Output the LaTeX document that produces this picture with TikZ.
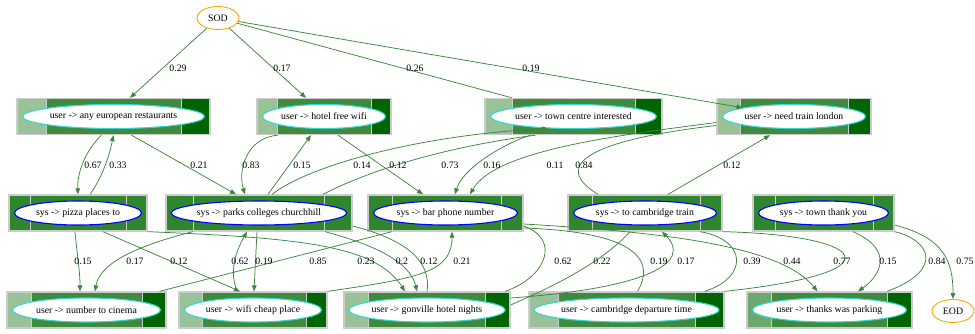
\documentclass[tikz,border=0pt]{standalone}
\usepackage{fontspec}
\setmainfont{Liberation Serif}
\usetikzlibrary{arrows.meta,shapes.geometric}

% cell colours of the dialogue-turn bars
\definecolor{usrpale}{HTML}{99C299}
\definecolor{usrmid}{HTML}{3F8A3F}
\definecolor{usrdark}{HTML}{006400}
\definecolor{usrbpale}{HTML}{6EA86E}
\definecolor{usrbmid}{HTML}{3F8A3F}
\definecolor{usrbdark}{HTML}{006400}
\definecolor{syspale}{HTML}{30852F}
\definecolor{sysmid}{HTML}{30852F}
\definecolor{sysdark}{HTML}{30852F}
\definecolor{framegray}{HTML}{CCCCCC}
\definecolor{turq}{HTML}{30D8D0}
\definecolor{flowgreen}{HTML}{3A873A}
\definecolor{endorange}{HTML}{FFA500}

\tikzset{
  txt/.style={font=\fontsize{9.8}{11}\selectfont},
  turnframe/.style={draw=framegray, line width=1.3pt, minimum height=36pt, inner sep=0pt},
  sepline/.style={draw=framegray, line width=0.9pt},
  usroval/.style={ellipse, draw=turq, line width=1.1pt, fill=white, minimum height=24pt, inner sep=0pt, txt},
  usrboval/.style={usroval},
  sysoval/.style={usroval, draw=blue},
  endpoint/.style={ellipse, draw=endorange, line width=0.9pt, minimum width=42pt, minimum height=23pt, inner sep=0pt, txt},
  flow/.style={draw=flowgreen, line width=0.75pt},
  arr/.style={-{Triangle[length=6pt,width=4.6pt]}},
  lbl/.style={txt, inner sep=0pt},
}

% #1 name, #2..#5 cell borders (x), #6 centre y, #7 kind, #8 text
\newcommand\dlgturn[8]{%
  \fill[#7pale] (#2,#6-18) rectangle (#3,#6+18);
  \fill[#7mid] (#3,#6-18) rectangle (#4,#6+18);
  \fill[#7dark] (#4,#6-18) rectangle (#5,#6+18);
  \draw[sepline] (#3,#6-18) -- (#3,#6+18) (#4,#6-18) -- (#4,#6+18);
  \pgfmathsetmacro\dlgw{#5-#2}%
  \pgfmathsetmacro\dlgx{(#2+#5)/2}%
  \pgfmathsetmacro\dlgew{#5-#2-11}%
  \node[turnframe, minimum width=\dlgw pt] (#1) at (\dlgx,#6) {};
  \node[#7oval, minimum width=\dlgew pt] (#1o) at (\dlgx,#6) {#8};
}

\begin{document}
\begin{tikzpicture}[x=1pt,y=-1pt]
\useasboundingbox (0,0) rectangle (975,333);

% start and end of dialogue
\node[endpoint] (SOD) at (218,18) {SOD};
\node[endpoint] (EOD) at (953,311) {EOD};

% user turns, first row
\dlgturn{A}{17}{46}{181}{210}{116.5}{usr}{user -> any european restaurants}
\dlgturn{B}{257}{277}{371}{391}{116.5}{usr}{user -> hotel free wifi}
\dlgturn{C}{485}{512}{635}{662}{116.5}{usr}{user -> town centre interested}
\dlgturn{D}{717}{740}{848}{871}{116.5}{usr}{user -> need train london}

% system turns
\dlgturn{E}{9}{30}{126}{147}{213}{sys}{sys -> pizza places to}
\dlgturn{F}{166}{193}{324}{352}{213}{sys}{sys -> parks colleges churchhill}
\dlgturn{G}{368}{392}{501}{523}{213}{sys}{sys -> bar phone number}
\dlgturn{H}{568}{592}{700}{722}{213}{sys}{sys -> to cambridge train}
\dlgturn{I}{753}{775}{873}{894}{213}{sys}{sys -> town thank you}

% user turns, last row
\dlgturn{J}{7}{31}{142}{166}{310}{usr}{user -> number to cinema}
\dlgturn{K}{179}{202}{306}{327}{310}{usr}{user -> wifi cheap place}
\dlgturn{L}{344}{368}{485}{510}{310}{usr}{user -> gonville hotel nights}
\dlgturn{M}{529}{558}{695}{724}{310}{usr}{user -> cambridge departure time}
\dlgturn{N}{747}{771}{887}{912}{310}{usrb}{user -> thanks was parking}

% transitions from the start
\draw[flow,arr] (SOD) -- ([xshift=16.5pt]A.north);
\draw[flow,arr] (SOD) -- ([xshift=-18pt]B.north);
\draw[flow] (SOD) -- ([xshift=-61.5pt]C.north);
\draw[flow,arr] (SOD) -- (Do);
\node[lbl] (l01) at (178,68) {0.29};
\node[lbl] (l02) at (282,68) {0.17};
\node[lbl] (l03) at (415,68) {0.26};
\node[lbl] (l04) at (531,68) {0.19};

% between the first two rows
\draw[flow,arr] ([xshift=-12pt]A.south) .. controls (86,150) and (77,172) .. (E.north);
\draw[flow,arr] ([xshift=12pt]E.north) .. controls (104,175) and (110,152) .. (A.south);
\draw[flow,arr] ([xshift=18pt]A.south) -- ([xshift=-23pt]F.north);
\draw[flow,arr] ([xshift=-46pt]B.south) .. controls (245,138) and (238,172) .. ([xshift=-14pt]F.north);
\draw[flow,arr] ([xshift=9pt]F.north) -- ([xshift=-13pt]B.south);
\draw[flow,arr] ([xshift=13pt]F.north) .. controls (310,165) and (420,135) .. (Co.205);
\draw[flow,arr] ([xshift=14pt]B.south) -- ([xshift=-22.5pt]G.north);
\draw[flow] ([xshift=-38pt]C.south) .. controls (460,145) and (380,165) .. ([xshift=64pt]F.north);
\draw[flow,arr] ([xshift=-43pt]C.south) .. controls (500,145) and (462,170) .. ([xshift=9.5pt]G.north);
\draw[flow,arr] ([yshift=-6pt]D.west) .. controls (620,135) and (495,150) .. ([xshift=24.5pt]G.north);
\draw[flow] ([yshift=-9pt]D.west) .. controls (590,140) and (550,165) .. ([xshift=-47pt]H.north);
\draw[flow,arr] ([xshift=23pt]H.north) -- ([xshift=-24pt]D.south);
\node[lbl] (l05) at (93,165) {0.67};
\node[lbl] (l06) at (118,165) {0.33};
\node[lbl] (l07) at (199,165) {0.21};
\node[lbl] (l08) at (251,165) {0.83};
\node[lbl] (l09) at (302,165) {0.15};
\node[lbl] (l10) at (362,165) {0.14};
\node[lbl] (l11) at (398,165) {0.12};
\node[lbl] (l12) at (450,165) {0.73};
\node[lbl] (l13) at (492,165) {0.16};
\node[lbl] (l14) at (555,165) {0.11};
\node[lbl] (l15) at (584,165) {0.84};
\node[lbl] (l16) at (732,165) {0.12};

% between the system row and the last row
\draw[flow,arr] ([xshift=-3pt]E.south) .. controls (77,255) and (80,270) .. ([xshift=-6.5pt]J.north);
\draw[flow,arr] ([xshift=-66pt]F.south) .. controls (140,245) and (100,262) .. ([xshift=8.5pt]J.north);
\draw[flow,arr] ([xshift=25pt]E.south) -- ([xshift=-13pt]K.north);
\draw[flow,arr] ([xshift=-16pt]K.north) .. controls (228,268) and (238,248) .. ([xshift=-12pt]F.south);
\draw[flow,arr] ([xshift=-2pt]F.south) -- ([xshift=1pt]K.north);
\draw[flow] ([xshift=73pt]J.north) -- ([xshift=-53.5pt]G.south);
\draw[flow,arr] (E.south east) .. controls (300,238) and (375,245) .. ([xshift=-22pt]L.north);
\draw[flow,arr] ([xshift=66pt]F.south) .. controls (375,245) and (410,262) .. ([xshift=-10pt]L.north);
\draw[flow] (L.north) .. controls (432,258) and (400,238) .. ([yshift=-13pt]F.east);
\draw[flow,arr] (K.north east) .. controls (420,278) and (452,272) .. ([xshift=6.5pt]G.south);
\draw[flow] ([xshift=78pt]L.north) .. controls (545,278) and (562,240) .. ([yshift=-13pt]G.east);
\draw[flow] ([yshift=-15pt]G.east) .. controls (640,232) and (655,262) .. ([xshift=11pt]M.north);
\draw[flow,arr] ([yshift=-11pt]G.east) .. controls (660,232) and (780,245) .. ([xshift=-12pt]N.north);
\draw[flow] ([xshift=-15pt]H.south) .. controls (600,265) and (545,290) .. ([yshift=5pt]L.east);
\draw[flow,arr] ([yshift=12pt]L.east) .. controls (650,288) and (692,262) .. ([xshift=17pt]H.south);
\draw[flow] ([xshift=55pt]H.south) .. controls (748,240) and (748,278) .. ([xshift=78pt]M.north);
\draw[flow] (M.north east) .. controls (905,272) and (865,235) .. (H.south east);
\draw[flow,arr] ([xshift=29.5pt]I.south) .. controls (895,250) and (880,276) .. ([xshift=28.5pt]N.north);
\draw[flow] ([xshift=57.5pt]N.north) .. controls (945,270) and (930,240) .. (I.south east);
\draw[flow,arr] ([yshift=-12pt]I.east) .. controls (945,238) and (953,262) .. (EOD.north);
\node[lbl] (l17) at (83,261) {0.15};
\node[lbl] (l18) at (135,261) {0.17};
\node[lbl] (l19) at (179,261) {0.12};
\node[lbl] (l20) at (240,261) {0.62};
\node[lbl] (l21) at (264,261) {0.19};
\node[lbl] (l22) at (318,261) {0.85};
\node[lbl] (l23) at (366,261) {0.23};
\node[lbl] (l24) at (402,261) {0.2};
\node[lbl] (l25) at (429,261) {0.12};
\node[lbl] (l26) at (462,261) {0.21};
\node[lbl] (l27) at (563,261) {0.62};
\node[lbl] (l28) at (602,261) {0.22};
\node[lbl] (l29) at (659,261) {0.19};
\node[lbl] (l30) at (686,261) {0.17};
\node[lbl] (l31) at (752,261) {0.39};
\node[lbl] (l32) at (792,261) {0.44};
\node[lbl] (l33) at (842,261) {0.77};
\node[lbl] (l34) at (888,261) {0.15};
\node[lbl] (l35) at (937,261) {0.84};
\node[lbl] (l36) at (965,261) {0.75};
\end{tikzpicture}
\end{document}
